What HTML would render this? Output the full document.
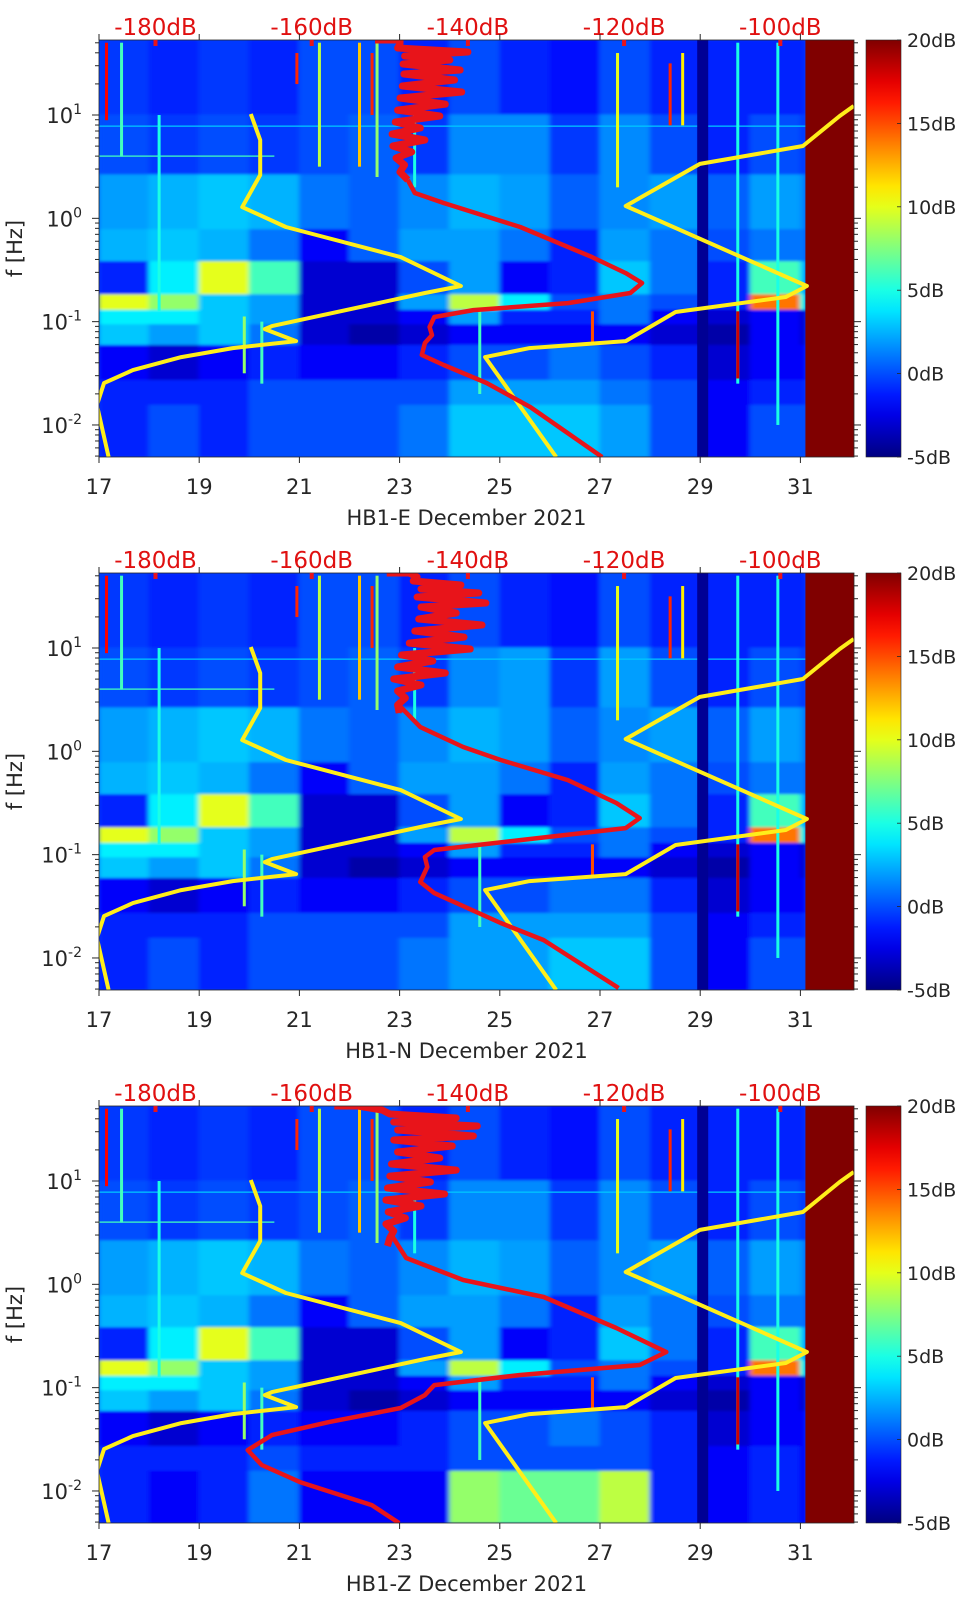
<!DOCTYPE html>
<html><head><meta charset="utf-8">
<style>
html,body{margin:0;padding:0;background:#fff;}
svg{display:block;font-family:"DejaVu Sans","Liberation Sans",sans-serif;}
</style></head>
<body>
<svg id="fig" width="962" height="1599" viewBox="0 0 962 1599" xmlns="http://www.w3.org/2000/svg">
<defs id="defs"></defs>
</svg>
<script>
// ---------- data ----------
const bandEdgesLogF = [1.726, 1.0, 0.42, -0.11, -0.42, -0.74, -0.89, -1.03, -1.23, -1.57, -1.81, -2.31];
const dayEdges = [17,18,19,20,21,22,23,24,25,26,27,28,29,30,31,31.1];
const specE = [
 [-0.5,-1,-0.5,-1,0,0,-1,0,-1,-1.5,0,-1,-1,-1,-1],
 [0,-0.5,0,-0.5,0,0.5,-0.5,1.5,1.5,-0.5,1.5,0,-1,0,-0.5],
 [2,2.5,3,2.5,1,0.5,1.5,2.5,2,0.5,1.5,2,0.5,2,1.5],
 [2.5,3,2.5,1,-2,0.5,2,2,1,-1,2,1,0,1,1],
 [-1,4,10,6,-3,-3,0,2,-2,-1,3,1,-1,6,3],
 [10,8,3,2,-3,-3,2,9,4,0,1,0,-1,14,5],
 [4,4,3,2,-3,-3,-2,2,-1,-1,1,-2,-3,-2,-3],
 [3,2,3,1,-3,-4,-3,-2,-2,-2,-2,-3,-4,-2,-3],
 [-2,-3,-2,-1,-2,-2,-1,0,0,1,0,-1,-3,-2,-2],
 [-1,-1,-1,0,0,0,0,2,2,2,1,0,-2,-1,-1],
 [-1,0,-1,0,0,0,1,3,3,3,2,0,-2,0,0]
];
const specN = [
 [-0.5,-1,-0.5,-1,0,0,-1,0,-1,-1.5,0,-1,-1,-1,-1],
 [0,-0.5,0,-0.5,0,0.5,-0.5,1.5,2,-0.5,2,0,-1,0,-0.5],
 [2,2.5,3,2.5,1,0.5,1.5,2.5,2,0.5,1.5,2,0.5,2,1.5],
 [2.5,3,2.5,1,-2,0.5,2,2,1,-1,2,1,0,1,1],
 [-1,4,10,6,-3,-3,0,2,-2,-1,3,1,-1,6,3],
 [10,8,3,2,-3,-3,2,9,4,0,1,0,-1,14,5],
 [4,4,3,2,-3,-3,-2,2,-1,-1,1,-2,-3,-2,-3],
 [3,2,3,1,-3,-4,-3,-2,-2,-2,-2,-3,-4,-2,-3],
 [-2,-3,-2,-1,-2,-2,-1,0,0,1,1,-1,-3,-2,-2],
 [-1,-1,-1,0,0,0,0,2,2,2,2,0,-2,-1,-1],
 [-1,0,-1,0,0,0,1,2,2,3,3,0,-2,0,0]
];
const specZ = [
 [-0.5,-1,-0.5,-1,0,0,-1,0,-1,-1.5,0,-1,-1,-1,-1],
 [0,-0.5,0,-0.5,0,0.5,-0.5,1.5,1.5,-0.5,1.5,0,-1,0,-0.5],
 [2,2.5,3,2.5,1,0.5,1.5,2.5,2,0.5,1.5,2,0.5,2,1.5],
 [2.5,3,2.5,1,-2,0.5,2,2,1,-1,2,1,0,1,1],
 [-1,4,10,6,-3,-3,0,2,-2,-1,3,1,-1,6,3],
 [10,8,3,2,-3,-3,2,9,4,0,1,0,-1,14,5],
 [4,4,3,2,-3,-3,-2,2,-1,-1,1,-2,-3,-2,-3],
 [3,2,3,1,-3,-4,-3,-2,-2,-2,-2,-3,-4,-2,-3],
 [-2,-3,-2,-1,-2,-2,-1,0,0,1,0,-1,-3,-2,-2],
 [-1,-1,-1,0,-1,-1,-1,0,0,0,0,-1,-2,-1,-2],
 [-1,-2,-1,1,-2,-2,-2,8,7,7,9,-1,-2,-1,-2]
];
const saturatedValue = 20;
const saturatedStartDay = 31.1;
const streakDays   = [17.15,17.45,18.2,20.95,21.4,22.2,22.45,22.55,23.3,27.35,28.4,28.65,29.75,29.75,30.55,20.25,19.9,26.85,24.6,29.05];
const streakVals   = [17,6,5,16,9,12,16,8,5,10,16,11,5,18,5,6,8,15,6,-4.5];
const streakTopLogF= [1.7,1.7,1.0,1.6,1.7,1.7,1.6,1.7,1.0,1.6,1.5,1.6,1.7,-0.9,1.7,-1.0,-0.95,-0.9,-0.9,1.726];
const streakBotLogF= [0.95,0.6,-0.9,1.3,0.5,0.5,1.0,0.4,0.3,0.3,0.9,0.9,-1.6,-1.55,-2.0,-1.6,-1.5,-1.2,-1.7,-2.31];
const hLineLogF  = [0.6, 0.89];
const hLineStart = [17, 17];
const hLineEnd   = [20.5, 31.1];
const hLineVals  = [6, 3];

const nlnmLogF = [1.01,0.758,0.419,0.109,-0.084,-0.375,-0.655,-0.723,-1.043,-1.072,-1.188,-1.256,-1.343,-1.469,-1.595,-1.808,-2.31];
const nlnmDb   = [-167.8,-166.6,-166.6,-168.9,-163.3,-148.6,-140.9,-145.5,-165.1,-166.0,-162.0,-170.1,-176.7,-182.9,-186.6,-187.5,-186.0];
const nhnmLogF = [1.087,0.99,0.70,0.527,0.119,-0.655,-0.761,-0.907,-1.188,-1.256,-1.343,-2.31];
const nhnmDb   = [-90.6,-92.4,-97.1,-110.3,-119.8,-96.6,-99.3,-113.4,-119.8,-132.1,-137.8,-128.7];

const noisyLogF = [1.726,1.726,1.687,1.649,1.610,1.571,1.532,1.494,1.436,1.397,1.339,1.281,1.223,1.165,1.106,1.048,0.990,0.932,0.874,0.816,0.758,0.700,0.642,0.584,0.516,0.448,0.371];
const psdE_noisyDb = [-151.9,-148.7,-148.7,-149.0,-140.0,-148.1,-142.3,-148.3,-141.0,-148.2,-141.7,-148.4,-140.8,-148.7,-142.9,-149.0,-143.6,-149.3,-146.1,-149.7,-145.5,-149.6,-147.2,-149.2,-148.1,-148.7,-147.7];
const psdE_LogF = [0.245,0.148,-0.084,-0.375,-0.530,-0.626,-0.723,-0.820,-0.888,-0.955,-1.052,-1.130,-1.207,-1.323,-1.420,-1.594,-1.827,-2.311];
const psdE_Db   = [-146.8,-143.1,-133.3,-124.1,-119.8,-117.7,-119.2,-127.2,-139.3,-144.3,-144.9,-144.6,-145.5,-145.9,-143.1,-137.6,-132.0,-122.8];
const psdN_noisyDb = [-150.4,-147.5,-146.5,-147.0,-140.9,-146.0,-138.6,-146.5,-137.7,-146.0,-141.5,-146.3,-138.2,-146.8,-140.5,-147.5,-139.7,-148.5,-144.5,-149.0,-142.9,-149.5,-146.0,-149.0,-148.0,-149.0,-148.8];
const psdN_LogF = [0.429,0.235,0.042,-0.084,-0.278,-0.500,-0.646,-0.743,-0.859,-0.955,-1.023,-1.120,-1.265,-1.372,-1.662,-1.827,-2.291];
const psdN_Db   = [-148.6,-146.1,-140.6,-135.8,-127.2,-121.0,-118.0,-119.8,-133.3,-144.3,-145.5,-145.2,-146.1,-144.3,-135.8,-130.3,-120.7];
const psdZ_noisyDb = [-157.1,-154.1,-151.0,-150.0,-141.5,-149.5,-138.8,-149.0,-139.3,-149.5,-142.0,-149.0,-143.6,-149.8,-141.5,-150.0,-144.8,-150.3,-143.0,-150.5,-146.0,-150.2,-148.0,-150.5,-149.5,-150.0,-150.3];
const psdZ_LogF = [0.477,0.255,0.042,-0.123,-0.423,-0.655,-0.781,-0.878,-0.975,-1.072,-1.197,-1.333,-1.459,-1.604,-1.749,-1.914,-2.137,-2.311];
const psdZ_Db   = [-149.8,-147.9,-140.6,-130.3,-121.0,-114.6,-118.0,-133.3,-144.3,-145.5,-148.6,-157.8,-165.1,-168.2,-166.4,-161.5,-152.3,-148.8];

const xTickDays = [17,19,21,23,25,27,29,31];
const yTickExp  = [-2,-1,0,1];
const dbTicks   = [-180,-160,-140,-120,-100];
const cbTicks   = [-5,0,5,10,15,20];
const panelTitles = ["HB1-E December 2021","HB1-N December 2021","HB1-Z December 2021"];
const panelKeys = ["e","n","z"];

// ---------- layout ----------
const NS = "http://www.w3.org/2000/svg";
const svg = document.getElementById("fig");
const defs = document.getElementById("defs");
const panelTops = [40, 573, 1106];
const PH = 417, PL = 99, PR = 854;
const dayPx = 50.1, decPx = (PH) / (1.726 + 2.31);
const CBX = 866, CBW = 35;
function mk(tag, attrs, parent){ const e=document.createElementNS(NS,tag); for(const k in attrs) e.setAttribute(k,attrs[k]); (parent||svg).appendChild(e); return e; }
function jet(v){ let t=(v+5)/25; t=Math.max(0,Math.min(1,t));
  const c=x=>Math.round(255*Math.max(0,Math.min(1,x)));
  return `rgb(${c(1.5-Math.abs(4*t-3))},${c(1.5-Math.abs(4*t-2))},${c(1.5-Math.abs(4*t-1))})`; }

const grad = mk("linearGradient",{id:"jetgrad",x1:"0",y1:"1",x2:"0",y2:"0"},defs);
for(let i=0;i<=20;i++){ mk("stop",{offset:(i/20).toFixed(3),"stop-color":jet(-5+25*i/20)},grad); }
const blur = mk("filter",{id:"soft",x:"-5%",y:"-5%",width:"110%",height:"110%"},defs);
mk("feGaussianBlur",{stdDeviation:"2.5 1.2"},blur);

const specs=[specE,specN,specZ];
const noisy=[psdE_noisyDb,psdN_noisyDb,psdZ_noisyDb];
const smoothF=[psdE_LogF,psdN_LogF,psdZ_LogF];
const smoothD=[psdE_Db,psdN_Db,psdZ_Db];

panelTops.forEach((top,pi)=>{
  const xDay = d => PL + (d-17)*dayPx;
  const yLog = lf => top + (1.726-lf)*decPx;
  const xDb = db => 155.5 + (db+180)*7.81;
  const key = panelKeys[pi];
  const bottom = top+PH;

  const g = mk("g",{});
  
  

  const cp = mk("clipPath",{id:"clip"+pi},defs);
  mk("rect",{x:PL,y:top,width:PR-PL,height:PH},cp);

  const plot = mk("g",{"clip-path":`url(#clip${pi})`},g);
  
  
  mk("rect",{x:PL,y:top,width:PR-PL,height:PH,fill:jet(0)},plot);

  const heat = mk("g",{filter:"url(#soft)"},plot);
  
  
  const M = specs[pi];
  for(let r=0;r<M.length;r++){
    for(let c=0;c<M[r].length;c++){
      const x0=xDay(dayEdges[c]), x1=xDay(dayEdges[c+1]);
      const y0=yLog(bandEdgesLogF[r]), y1=yLog(bandEdgesLogF[r+1]);
      const cell = mk("rect",{x:x0-0.5,y:y0-0.5,width:x1-x0+1,height:y1-y0+1,fill:jet(M[r][c])},heat);
      
      
    }
  }
  for(let i=0;i<hLineLogF.length;i++){
    const hl = mk("rect",{x:xDay(hLineStart[i]),y:yLog(hLineLogF[i])-1,width:xDay(hLineEnd[i])-xDay(hLineStart[i]),height:1.6,fill:jet(hLineVals[i]),opacity:0.8},plot);
    
    
  }
  for(let i=0;i<streakDays.length;i++){
    const w = streakVals[i] < -3 ? 11 : 3;
    const st = mk("rect",{x:xDay(streakDays[i])-w/2,y:yLog(streakTopLogF[i]),width:w,height:yLog(streakBotLogF[i])-yLog(streakTopLogF[i]),fill:jet(streakVals[i])},plot);
    
    
  }
  const sat = mk("rect",{x:xDay(saturatedStartDay),y:top,width:PR-xDay(saturatedStartDay),height:PH,fill:jet(saturatedValue)},plot);
  
  

  const pts = (F,D)=>F.map((f,i)=>`${xDb(D[i]).toFixed(1)},${yLog(f).toFixed(1)}`).join(" ");
  const nl = mk("polyline",{points:pts(nlnmLogF,nlnmDb),fill:"none",stroke:"#ffee1a","stroke-width":4,"stroke-linejoin":"round"},plot);
  
  
  const nh = mk("polyline",{points:pts(nhnmLogF,nhnmDb),fill:"none",stroke:"#ffee1a","stroke-width":4,"stroke-linejoin":"round"},plot);
  
  
  const nz = mk("polyline",{points:pts(noisyLogF,noisy[pi]),fill:"none",stroke:"#e8141a","stroke-width":7,"stroke-linejoin":"round"},plot);
  
  
  const allF = [noisyLogF[noisyLogF.length-1]].concat(smoothF[pi]);
  const allD = [noisy[pi][noisy[pi].length-1]].concat(smoothD[pi]);
  const psd = mk("polyline",{points:pts(allF,allD),fill:"none",stroke:"#e8141a","stroke-width":4.5,"stroke-linejoin":"round"},plot);
  
  

  const box = mk("rect",{x:PL,y:top,width:PR-PL,height:PH,fill:"none",stroke:"#262626","stroke-width":0.8},g);
  
  

  dbTicks.forEach(db=>{
    const m = mk("rect",{x:xDb(db)-2,y:top,width:4,height:6,fill:"#e8141a"},g);
    
    
    const t = mk("text",{x:xDb(db),y:top-5,"text-anchor":"middle","font-size":23,fill:"#e01010"},g);
    t.textContent = db+"dB";
    
    
  });
  xTickDays.forEach(d=>{
    const x=xDay(d);
    mk("line",{x1:x,y1:bottom,x2:x,y2:bottom+6,stroke:"#262626","stroke-width":1},g);
    mk("line",{x1:x,y1:top,x2:x,y2:top-6,stroke:"#262626","stroke-width":1},g);
    const t = mk("text",{x:x,y:bottom+37,"text-anchor":"middle","font-size":21,fill:"#262626"},g);
    t.textContent = d;
    
    
  });
  for(let e=-3;e<=1;e++){
    for(let m=1;m<=9;m++){
      const lf=e+Math.log10(m);
      if(lf< -2.31 || lf>1.726) continue;
      const y=yLog(lf), L = m===1?7:4;
      mk("line",{x1:PL,y1:y,x2:PL-L,y2:y,stroke:"#262626","stroke-width":1},g);
      mk("line",{x1:PR,y1:y,x2:PR+L,y2:y,stroke:"#262626","stroke-width":1},g);
    }
  }
  yTickExp.forEach(e=>{
    const t = mk("text",{x:82,y:yLog(e)+8,"text-anchor":"end","font-size":21,fill:"#262626"},g);
    t.appendChild(document.createTextNode("10"));
    const sup = mk("tspan",{dy:-9,"font-size":14},t);
    sup.textContent = String(e);
    
    
  });
  const yl = mk("text",{x:0,y:0,"text-anchor":"middle","font-size":21,fill:"#262626",transform:`translate(22,${top+PH/2}) rotate(-90)`},g);
  yl.textContent = "f [Hz]";
  
  
  const xl = mk("text",{x:(PL+PR)/2-10,y:bottom+68,"text-anchor":"middle","font-size":21,fill:"#262626"},g);
  xl.textContent = panelTitles[pi];
  
  

  const cb = mk("rect",{x:CBX,y:top,width:CBW,height:PH,fill:"url(#jetgrad)",stroke:"#262626","stroke-width":0.6},g);
  
  
  cbTicks.forEach(v=>{
    const y = top + (20-v)/25*PH;
    mk("line",{x1:CBX+CBW,y1:y,x2:CBX+CBW-4,y2:y,stroke:"#262626","stroke-width":0.8},g);
    const t = mk("text",{x:CBX+CBW+6,y:y+7,"font-size":19,fill:"#262626"},g);
    t.textContent = v+"dB";
    
    
  });
});
</script>
</body></html>
